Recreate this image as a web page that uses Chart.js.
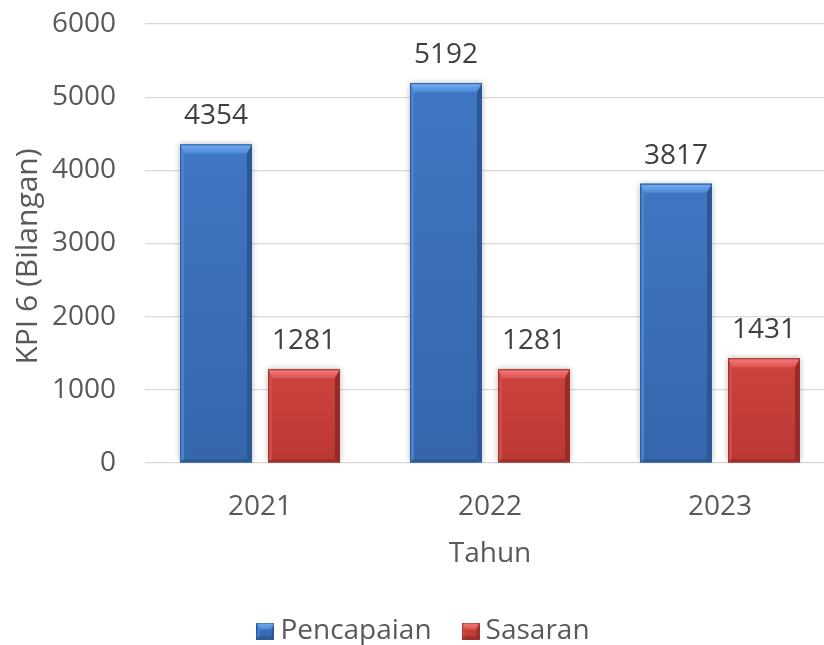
<!DOCTYPE html>
<html>
<head>
<meta charset="utf-8">
<script src="https://cdn.jsdelivr.net/npm/chart.js@4"></script>
<style>
  html, body { margin: 0; padding: 0; background: #ffffff; }
  #wrap { width: 824px; height: 645px; overflow: hidden; position: relative; }
  canvas { display: block; }
</style>
</head>
<body>
<div id="wrap"><canvas id="c" width="846" height="655"></canvas></div>
<script>
// ---- data ----
const categories = ['2021', '2022', '2023'];
const pencapaian = [4354, 5192, 3817];
const sasaran = [1281, 1281, 1431];
const seriesNames = ['Pencapaian', 'Sasaran'];
const yMin = 0, yMax = 6000, yStep = 1000;
const xTitle = 'Tahun';
const yTitle = 'KPI 6 (Bilangan)';

// ---- styles ----
const FONT = "'Open Sans', 'Noto Sans', sans-serif";
const FS = 28;
const palettes = [
  { face0: '#3F76C2', face1: '#3566AC', top0: '#74AEF2', top1: '#4E8AD8', left: '#4A82CE', right: '#2B5895', bottom: '#2C5894', edge: '#2D5C9B' },
  { face0: '#CC433F', face1: '#BA3834', top0: '#F47D7A', top1: '#DC5350', left: '#D04A46', right: '#962B28', bottom: '#9B2D2A', edge: '#9E302D' }
];

function drawBevel(ctx, l, t, r, b, p, sz) {
  const T = sz.T, L = sz.L, R = sz.R, B = sz.B;
  const w = r - l, h = b - t;
  if (w <= 0 || h <= 0) return;
  let g = ctx.createLinearGradient(0, t, 0, b);
  g.addColorStop(0, p.face0); g.addColorStop(1, p.face1);
  ctx.fillStyle = g;
  ctx.fillRect(l, t, w, h);
  g = ctx.createLinearGradient(0, t, 0, t + T);
  g.addColorStop(0, p.top0); g.addColorStop(1, p.top1);
  ctx.fillStyle = g;
  ctx.beginPath();
  ctx.moveTo(l, t); ctx.lineTo(r, t); ctx.lineTo(r - R, t + T); ctx.lineTo(l + L, t + T); ctx.closePath(); ctx.fill();
  ctx.fillStyle = p.left;
  ctx.beginPath();
  ctx.moveTo(l, t); ctx.lineTo(l + L, t + T); ctx.lineTo(l + L, b - B); ctx.lineTo(l, b); ctx.closePath(); ctx.fill();
  ctx.fillStyle = p.right;
  ctx.beginPath();
  ctx.moveTo(r, t); ctx.lineTo(r, b); ctx.lineTo(r - R, b - B); ctx.lineTo(r - R, t + T); ctx.closePath(); ctx.fill();
  ctx.fillStyle = p.bottom;
  ctx.beginPath();
  ctx.moveTo(l, b); ctx.lineTo(l + L, b - B); ctx.lineTo(r - R, b - B); ctx.lineTo(r, b); ctx.closePath(); ctx.fill();
  ctx.strokeStyle = p.edge; ctx.lineWidth = 1;
  ctx.strokeRect(l + 0.5, t + 0.5, w - 1, h - 1);
}

function legendMarker(p) {
  const cv = document.createElement('canvas');
  cv.width = 18; cv.height = 17;
  const c = cv.getContext('2d');
  drawBevel(c, 0, 0, 18, 17, p, { T: 7, L: 3, R: 3, B: 3 });
  return cv;
}

const bevelPlugin = {
  id: 'bevel',
  beforeDatasetsDraw(chart) {
    const ctx = chart.ctx;
    ctx.save();
    ctx.shadowColor = 'rgba(0,0,0,0.28)';
    ctx.shadowBlur = 6;
  },
  afterDatasetsDraw(chart) {
    const ctx = chart.ctx;
    ctx.restore();
    ctx.save();
    chart.data.datasets.forEach((ds, di) => {
      const meta = chart.getDatasetMeta(di);
      meta.data.forEach((bar, i) => {
        const pr = bar.getProps(['x', 'y', 'base', 'width'], true);
        const l = pr.x - pr.width / 2, r = pr.x + pr.width / 2;
        drawBevel(ctx, l, pr.y, r, pr.base, palettes[di], { T: 9, L: 4, R: 5, B: 3 });
        ctx.fillStyle = '#404040';
        ctx.font = FS + 'px ' + FONT;
        ctx.textAlign = 'center';
        ctx.textBaseline = 'alphabetic';
        ctx.fillText(String(ds.data[i]), pr.x, pr.y - 20);
      });
    });
    ctx.restore();
  }
};

const markers = palettes.map(legendMarker);

new Chart(document.getElementById('c'), {
  type: 'bar',
  data: {
    labels: categories,
    datasets: [
      { label: seriesNames[0], data: pencapaian, backgroundColor: palettes[0].face0, borderWidth: 0,
        categoryPercentage: 0.765, barPercentage: 0.818, pointStyle: markers[0] },
      { label: seriesNames[1], data: sasaran, backgroundColor: palettes[1].face0, borderWidth: 0,
        categoryPercentage: 0.765, barPercentage: 0.818, pointStyle: markers[1] }
    ]
  },
  options: {
    responsive: false,
    animation: false,
    devicePixelRatio: 1,
    layout: { padding: { top: 24, left: 19, right: 11, bottom: 0 } },
    font: { family: FONT },
    plugins: {
      tooltip: { enabled: false },
      legend: {
        position: 'bottom',
        labels: {
          usePointStyle: true,
          boxWidth: 2,
          boxHeight: 17,
          padding: 38,
          color: '#595959',
          font: { family: FONT, size: FS }
        }
      }
    },
    scales: {
      x: {
        grid: { display: false },
        border: { display: false },
        ticks: { color: '#595959', font: { family: FONT, size: FS }, padding: 19 },
        title: { display: true, text: xTitle, color: '#595959', font: { family: FONT, size: FS }, padding: { top: 0, bottom: 8 } },
        afterFit(scale) { scale.height = 116; }
      },
      y: {
        min: yMin, max: yMax,
        ticks: { stepSize: yStep, color: '#595959', font: { family: FONT, size: FS }, padding: 29,
                 callback: (v) => String(v) },
        grid: { color: '#D9D9D9', lineWidth: 1.3, drawTicks: false },
        border: { display: false },
        title: { display: true, text: yTitle, color: '#595959', font: { family: FONT, size: 30 }, padding: { top: -9, bottom: 0 } },
        afterFit(scale) { scale.width = 126; scale.paddingTop = 0; scale.paddingBottom = 0; },
        afterUpdate(scale) {
          if (!scale._titleShifted) {
            const base = Object.getPrototypeOf(scale).drawTitle;
            scale.drawTitle = function () {
              const ctx = this.ctx;
              ctx.save();
              ctx.translate(0, 13);
              base.call(this);
              ctx.restore();
            };
            scale._titleShifted = true;
          }
        }
      }
    }
  },
  plugins: [bevelPlugin]
});
</script>
</body>
</html>
